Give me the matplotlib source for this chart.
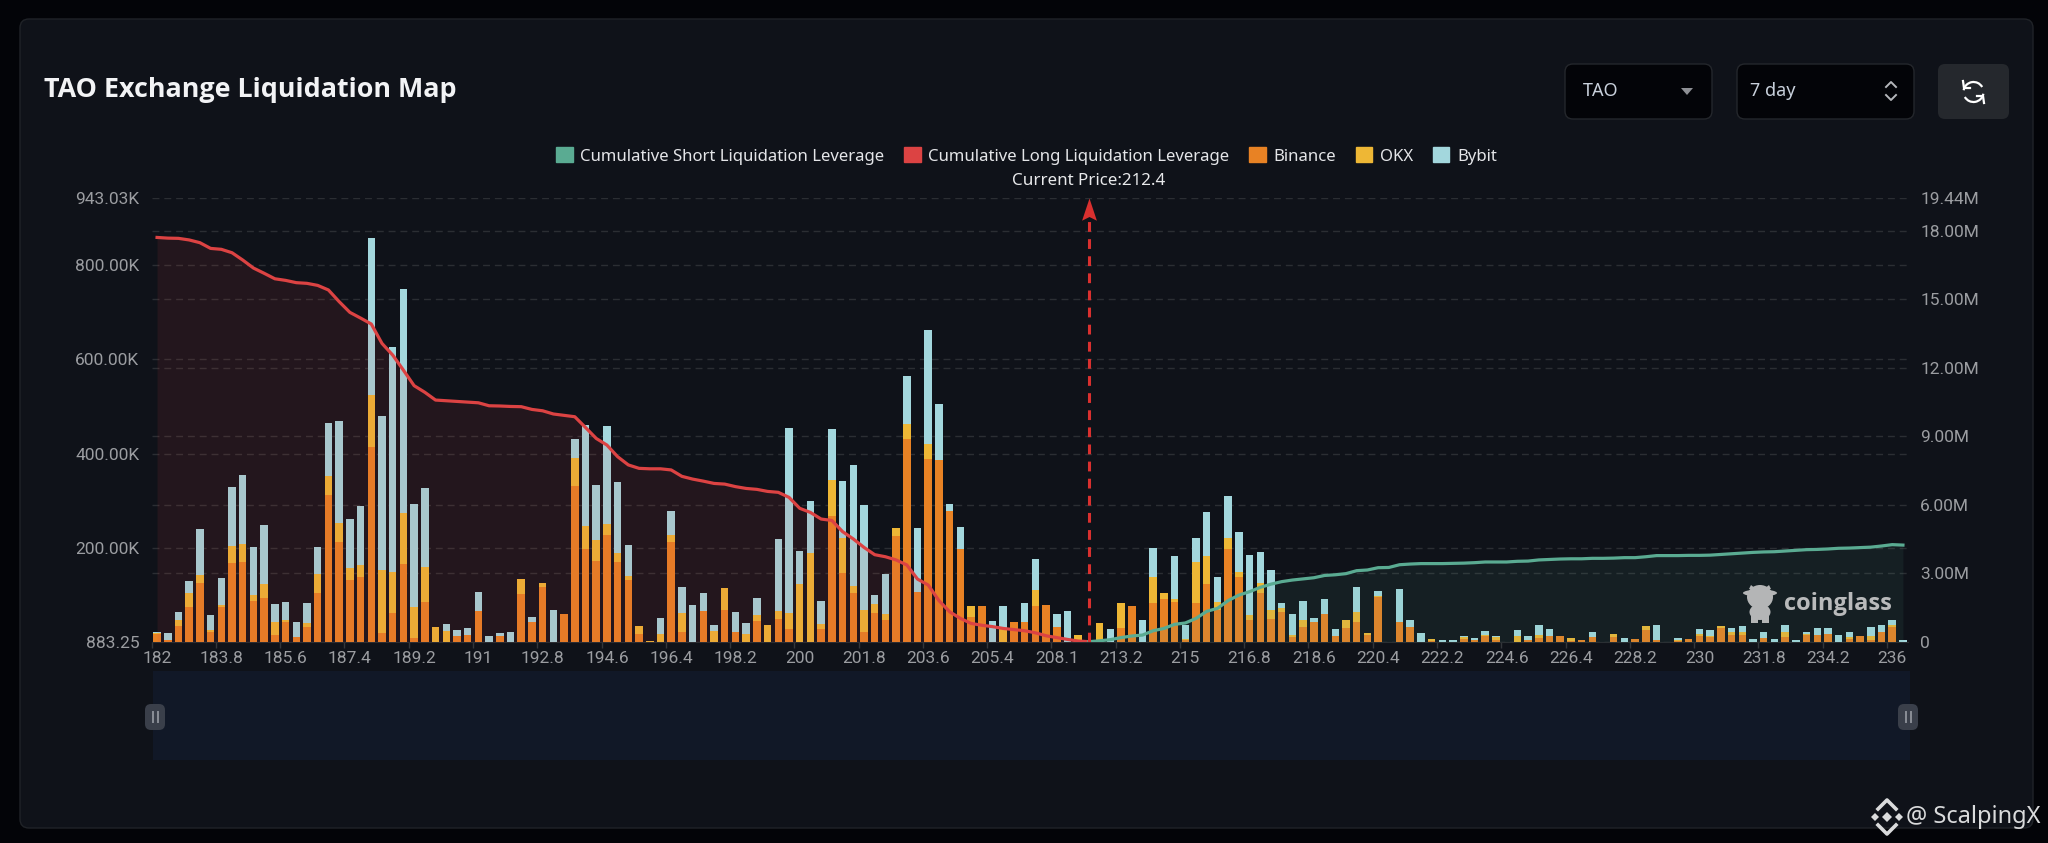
import numpy as np
import matplotlib
matplotlib.use("Agg")
import matplotlib.pyplot as plt
from matplotlib.patches import FancyBboxPatch, Patch, Rectangle, Ellipse, Arc, Polygon
from matplotlib.path import Path

# values, thousands of USD per price bucket
binance = [17, 5, 35, 74, 125, 21, 75, 168, 169, 88, 94, 16, 42, 10, 32, 105, 312, 212, 132, 139,
           415, 20, 61, 166, 9, 86, 0, 0, 12, 15, 65, 0, 13, 0, 103, 43, 118, 0, 59, 332,
           197, 173, 228, 170, 132, 18, 1, 0, 213, 22, 0, 66, 0, 69, 22, 0, 45, 0, 49, 28,
           0, 0, 27, 268, 147, 105, 21, 61, 46, 226, 431, 106, 388, 387, 279, 198, 54, 77, 0, 0,
           42, 42, 76, 79, 32, 0, 0, 0, 0, 0, 30, 77, 0, 84, 91, 86, 4, 84, 123, 69,
           197, 139, 47, 104, 49, 64, 11, 33, 43, 59, 13, 30, 42, 16, 95, 1, 42, 33, 0, 2,
           0, 0, 7, 4, 13, 5, 1, 1, 5, 8, 12, 14, 2, 4, 10, 1, 11, 0, 6, 25,
           4, 1, 3, 6, 12, 11, 30, 16, 16, 0, 9, 0, 10, 0, 16, 16, 18, 0, 7, 13,
           4, 22, 32, 0]
okx = [2, 0, 12, 30, 17, 4, 4, 37, 39, 13, 29, 27, 5, 1, 9, 40, 40, 40, 25, 24,
       110, 134, 88, 107, 66, 74, 33, 23, 2, 1, 0, 0, 1, 0, 30, 0, 8, 0, 0, 58,
       50, 44, 23, 19, 9, 16, 2, 18, 15, 40, 0, 0, 23, 46, 0, 17, 13, 36, 17, 33,
       123, 190, 11, 76, 74, 14, 48, 19, 14, 17, 31, 0, 33, 0, 0, 0, 23, 0, 0, 28,
       0, 0, 35, 0, 0, 0, 15, 0, 41, 0, 52, 0, 0, 54, 13, 6, 3, 85, 59, 16,
       23, 9, 11, 22, 20, 8, 4, 14, 0, 0, 0, 16, 21, 3, 3, 0, 0, 0, 0, 5,
       0, 0, 3, 0, 3, 6, 0, 11, 0, 8, 0, 0, 6, 0, 0, 0, 6, 0, 0, 9,
       0, 0, 1, 0, 6, 2, 4, 5, 5, 0, 0, 0, 12, 0, 2, 0, 0, 0, 4, 0,
       10, 0, 4, 0]
bybit = [3, 14, 16, 26, 98, 33, 58, 124, 146, 100, 126, 37, 38, 32, 42, 56, 112, 218, 105, 125,
         332, 325, 477, 477, 218, 168, 0, 15, 12, 13, 42, 13, 6, 22, 0, 11, 0, 69, 0, 41,
         214, 117, 207, 151, 66, 0, 0, 33, 50, 54, 79, 38, 13, 0, 42, 24, 35, 0, 153, 394,
         70, 110, 50, 109, 121, 257, 222, 21, 84, 0, 103, 137, 241, 118, 14, 47, 0, 0, 44, 48,
         0, 42, 65, 0, 28, 67, 0, 0, 0, 28, 0, 0, 46, 61, 0, 91, 30, 52, 95, 54,
         91, 86, 127, 65, 84, 11, 45, 41, 8, 33, 14, 0, 54, 0, 11, 0, 70, 13, 20, 0,
         5, 5, 4, 4, 8, 1, 0, 13, 7, 21, 15, 0, 0, 0, 11, 0, 0, 9, 0, 0,
         33, 0, 4, 0, 9, 12, 0, 8, 13, 6, 13, 7, 15, 4, 4, 13, 13, 16, 11, 0,
         18, 15, 11, 4]

# cumulative curves in millions, long side runs down to the current price, short side up from it
cum_long = [17.70, 17.67, 17.66, 17.59, 17.47, 17.22, 17.18, 17.03, 16.71, 16.36,
            16.13, 15.89, 15.82, 15.72, 15.69, 15.60, 15.40, 14.89, 14.42, 14.17,
            13.91, 13.06, 12.55, 11.89, 11.21, 10.92, 10.58, 10.55, 10.52, 10.49,
            10.46, 10.33, 10.32, 10.30, 10.29, 10.17, 10.11, 9.97, 9.91, 9.85,
            9.38, 8.90, 8.61, 8.10, 7.74, 7.59, 7.57, 7.57, 7.52, 7.24,
            7.12, 7.03, 6.93, 6.90, 6.79, 6.71, 6.67, 6.58, 6.54, 6.32,
            5.84, 5.66, 5.37, 5.31, 4.82, 4.50, 4.13, 3.81, 3.72, 3.58,
            3.36, 2.74, 2.48, 1.80, 1.31, 1.02, 0.80, 0.72, 0.66, 0.58,
            0.53, 0.48, 0.39, 0.26, 0.18, 0.10, 0.03, 0]
cum_short = [0, 0.04, 0.09, 0.18, 0.25, 0.29, 0.48, 0.58, 0.76, 0.82,
             1.02, 1.33, 1.46, 1.80, 2.04, 2.19, 2.38, 2.52, 2.63, 2.70,
             2.75, 2.80, 2.90, 2.93, 2.98, 3.11, 3.14, 3.24, 3.25, 3.37,
             3.40, 3.42, 3.42, 3.42, 3.43, 3.44, 3.46, 3.49, 3.49, 3.49,
             3.52, 3.53, 3.58, 3.60, 3.62, 3.63, 3.63, 3.65, 3.65, 3.66,
             3.68, 3.68, 3.72, 3.77, 3.77, 3.77, 3.78, 3.78, 3.79, 3.82,
             3.85, 3.88, 3.91, 3.93, 3.94, 3.97, 4.00, 4.03, 4.04, 4.06,
             4.09, 4.10, 4.12, 4.14, 4.19, 4.25, 4.23]
price_idx = 87

x_labels = ["182", "183.8", "185.6", "187.4", "189.2", "191", "192.8", "194.6", "196.4", "198.2",
            "200", "201.8", "203.6", "205.4", "208.1", "213.2", "215", "216.8", "218.6", "220.4",
            "222.2", "224.6", "226.4", "228.2", "230", "231.8", "234.2", "236"]
left_ticks = [883.25, 200000, 400000, 600000, 800000, 943030]
left_labels = ["883.25", "200.00K", "400.00K", "600.00K", "800.00K", "943.03K"]
right_ticks = [0, 3, 6, 9, 12, 15, 18, 19.44]
right_labels = ["0", "3.00M", "6.00M", "9.00M", "12.00M", "15.00M", "18.00M", "19.44M"]

ORANGE = "#E88224"
YELLOW = "#EEB735"
BLUE = "#A3D7DD"
GREEN = "#5AAB92"
RED = "#DC4343"
TXT = "#9B9DA1"
GRID = "#2B2E33"

W, H = 2048, 843
plt.rcParams["font.family"] = ["Roboto", "DejaVu Sans"]
fig = plt.figure(figsize=(W / 100, H / 100), dpi=100, facecolor="#030408")

# page furniture lives in a pixel sized axes behind the chart
bg = fig.add_axes([0, 0, 1, 1], zorder=0)
bg.set_xlim(0, W)
bg.set_ylim(H, 0)
bg.axis("off")
bg.add_patch(FancyBboxPatch((20, 19), 2013, 809, boxstyle="round,pad=0,rounding_size=9",
                            fc="#0F1219", ec="#202328", lw=1))
bg.text(44, 90, "TAO Exchange Liquidation Map", color="#F2F3F5", fontsize=19.4, fontweight="bold",
        family="Open Sans", va="center", ha="left")
for x0, x1 in [(1565, 1712), (1737, 1914)]:
    bg.add_patch(FancyBboxPatch((x0, 64), x1 - x0, 55, boxstyle="round,pad=0,rounding_size=8",
                                fc="#030408", ec="#24272c", lw=1))
bg.add_patch(FancyBboxPatch((1938, 64), 71, 55, boxstyle="round,pad=0,rounding_size=7",
                            fc="#25282D", ec="none"))
bg.text(1583, 91, "TAO", color="#C9D1DC", fontsize=13, family="Noto Sans", va="center")
bg.text(1750, 91, "7 day", color="#C9D1DC", fontsize=13, family="Noto Sans", va="center")
bg.add_patch(Polygon([(1681, 88), (1693, 88), (1687, 95)], fc="#8E9095", ec="none"))
bg.plot([1886, 1891, 1896], [87, 82, 87], color="#B5B7BB", lw=1.4)
bg.plot([1886, 1891, 1896], [95, 100, 95], color="#B5B7BB", lw=1.4)
bg.add_patch(Arc((1973.5, 92), 20, 20, theta1=10, theta2=150, color="white", lw=1.6))
bg.add_patch(Arc((1973.5, 92), 20, 20, theta1=190, theta2=330, color="white", lw=1.6))
bg.plot([1963, 1964, 1970], [81, 88, 88], color="white", lw=1.6)
bg.plot([1984, 1983, 1977], [103, 96, 96], color="white", lw=1.6)

# slider strip under the chart
bg.add_patch(Rectangle((153, 671), 1757, 89, fc="#111827", ec="none"))
for cx in (155, 1908):
    bg.add_patch(FancyBboxPatch((cx - 10, 704), 20, 26, boxstyle="round,pad=0,rounding_size=6",
                                fc="#3A3F4A", ec="none", zorder=3))
    bg.plot([cx - 2.5, cx - 2.5], [712, 722], color="#8B8F97", lw=1.4, zorder=4)
    bg.plot([cx + 2.5, cx + 2.5], [712, 722], color="#8B8F97", lw=1.4, zorder=4)

ax = fig.add_axes([151.7 / W, 1 - 641.7 / H, (1908.3 - 151.7) / W, 444 / H], zorder=1)
ax.patch.set_alpha(0)
idx = np.arange(len(binance))
b = np.array(binance) * 1000.0
o = np.array(okx) * 1000.0
y = np.array(bybit) * 1000.0
ax.bar(idx, b, width=0.7, color=ORANGE, zorder=3)
ax.bar(idx, o, width=0.7, bottom=b, color=YELLOW, zorder=3)
ax.bar(idx, y, width=0.7, bottom=b + o, color=BLUE, zorder=3)
ax.set_xlim(-0.5, len(binance) - 0.5)
ax.set_ylim(left_ticks[0], left_ticks[-1])
ax.set_yticks(left_ticks, left_labels)
ax.set_xticks(idx[::6], x_labels)
ax.set_xticks(idx[::6] - 0.5, minor=True)
ax.tick_params(axis="y", length=0, pad=9, labelsize=12.5, labelcolor=TXT)
ax.tick_params(axis="x", which="major", length=0, pad=7, labelsize=12.5, labelcolor=TXT)
ax.tick_params(axis="x", which="minor", length=4, width=1, color="#33363B")
ax.grid(axis="y", color=GRID, lw=1, ls=(0, (5, 3.5)), zorder=0)
# right axis grid sits under the bars too, so it is drawn on the left axes
scale = (left_ticks[-1] - left_ticks[0]) / right_ticks[-1]
ax.hlines(np.array(right_ticks[1:-1]) * scale + left_ticks[0], -0.5, len(binance) - 0.5,
          color=GRID, lw=1, ls=(0, (5, 3.5)), zorder=0)
for s in ax.spines.values():
    s.set_visible(False)
ax.spines["bottom"].set_visible(True)
ax.spines["bottom"].set_color("#2A2D32")

ax2 = ax.twinx()
ax2.set_ylim(0, right_ticks[-1])
ax2.set_yticks(right_ticks, right_labels)
ax2.tick_params(axis="y", length=0, pad=8.5, labelsize=12.5, labelcolor=TXT)
for s in ax2.spines.values():
    s.set_visible(False)
long_x = idx[:price_idx + 1]
short_x = idx[price_idx:]
ax2.fill_between(long_x, cum_long, 0, color=RED, alpha=0.10, lw=0)
ax2.fill_between(short_x, cum_short, 0, color=GREEN, alpha=0.09, lw=0)
ax2.plot(long_x, cum_long, color=RED, lw=2.3, solid_joinstyle="round")
ax2.plot(short_x, cum_short, color=GREEN, lw=2.3, solid_joinstyle="round")

# current price arrow
ax2.plot([price_idx, price_idx], [0, 18.4], color="#D9302F", lw=2.2, ls=(0, (3.2, 2.4)))
head = Path([(0, 0), (-1, -3), (0, -2.5), (1, -3), (0, 0)],
            [Path.MOVETO, Path.LINETO, Path.LINETO, Path.LINETO, Path.CLOSEPOLY])
ax2.plot([price_idx], [right_ticks[-1]], marker=head, ms=32, color="#D9302F", mew=0, clip_on=False)
fig.text(1089 / W, 1 - 181 / H, "Current Price:212.4", color="#E8E9EB", fontsize=12.2,
         family="Noto Sans", ha="center", va="center")

handles = [Patch(color=GREEN), Patch(color=RED), Patch(color=ORANGE), Patch(color=YELLOW), Patch(color=BLUE)]
names = ["Cumulative Short Liquidation Leverage", "Cumulative Long Liquidation Leverage", "Binance", "OKX", "Bybit"]
leg = fig.legend(handles, names, loc="center", bbox_to_anchor=(1026.5 / W, 1 - 156 / H), ncol=5, frameon=False,
                 handlelength=1, handleheight=1, handletextpad=0.45, columnspacing=1.17,
                 prop={"family": "Noto Sans", "size": 12.05}, labelcolor="#E4E5E8")

# watermarks on top of everything
top = fig.add_axes([0, 0, 1, 1], zorder=5)
top.set_xlim(0, W)
top.set_ylim(H, 0)
top.axis("off")
top.patch.set_alpha(0)
top.text(1784, 604, "coinglass", color="#B9BABB", fontsize=17, fontweight="bold", family="Open Sans",
         va="center", ha="left")
cow = "#B4B5B6"
top.add_patch(Ellipse((1760, 593), 34, 7, fc=cow, ec="none"))
top.add_patch(Ellipse((1760, 597), 26, 24, fc=cow, ec="none"))
top.add_patch(Ellipse((1760, 612), 21, 16, fc=cow, ec="none"))
top.add_patch(Rectangle((1751, 612), 7, 11, fc=cow, ec="none"))
top.add_patch(Rectangle((1762, 612), 7, 11, fc=cow, ec="none"))
top.add_patch(Polygon([(1749, 589), (1751, 585), (1756, 589)], fc=cow, ec="none"))
top.add_patch(Polygon([(1764, 589), (1769, 585), (1771, 589)], fc=cow, ec="none"))

top.text(1906, 817, "@ ScalpingX", color="#DADBDC", fontsize=17, family="Noto Sans", va="center", ha="left")
lc = "#DADBDC"
top.plot([1878, 1887, 1896], [809, 800, 809], color=lc, lw=2.6)
top.plot([1878, 1887, 1896], [825, 834, 825], color=lc, lw=2.6)
top.plot([1887], [817], marker="D", ms=5, color=lc, mew=0)
top.plot([1875, 1899], [817, 817], marker="D", ms=4, color=lc, mew=0, ls="none")

fig.savefig("out.png", dpi=100, facecolor=fig.get_facecolor())
